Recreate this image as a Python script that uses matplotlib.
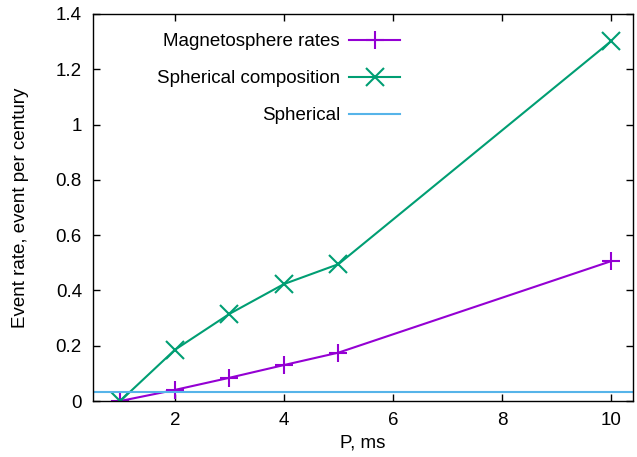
import matplotlib
matplotlib.use("Agg")
import matplotlib.pyplot as plt
from matplotlib.ticker import FuncFormatter

plt.rcParams['font.family'] = ['Liberation Sans', 'DejaVu Sans']
plt.rcParams['font.size'] = 13.5

P = [1, 2, 3, 4, 5, 10]
magneto = [0.0, 0.04, 0.084, 0.13, 0.175, 0.506]
spher_comp = [0.0, 0.185, 0.315, 0.423, 0.495, 1.302]
spherical_level = 0.033

xticks = [2, 4, 6, 8, 10]
yticks = [0, 0.2, 0.4, 0.6, 0.8, 1.0, 1.2, 1.4]

W, H = 637, 457
fig = plt.figure(figsize=(W / 100, H / 100), dpi=100)
ax = fig.add_axes([93 / W, 1 - 401 / H, (633 - 93) / W, (401 - 14) / H])

ax.plot(P, magneto, color='#9400d3', lw=1.5, marker='+', ms=13, mew=1.5,
        label='Magnetosphere rates')
ax.plot(P, spher_comp, color='#009e73', lw=1.5, marker='x', ms=13, mew=1.5,
        label='Spherical composition')
ax.axhline(spherical_level, color='#56b4e9', lw=1.5, label='Spherical')

ax.set_xlim(0.5, 10.4)
ax.set_ylim(0, 1.4)
ax.set_xticks(xticks)
ax.set_yticks(yticks)
ax.yaxis.set_major_formatter(FuncFormatter(lambda v, p: f"{v:g}"))
ax.tick_params(direction='in', top=True, right=True, length=5, width=1,
               labelsize=13.5, pad=8)
for s in ax.spines.values():
    s.set_linewidth(1)

ax.set_xlabel('P, ms', fontsize=13.5, labelpad=4)
ax.set_ylabel('Event rate, event per century', fontsize=13.5, labelpad=19)

ax.legend(loc='upper right', bbox_to_anchor=(400 / W, 1 - 33 / H),
          bbox_transform=fig.transFigure, frameon=False, markerfirst=False,
          borderpad=0, borderaxespad=0, handlelength=2.7, handletextpad=0.5,
          labelspacing=1.06, fontsize=13.5)

fig.savefig('out.png', dpi=100)
